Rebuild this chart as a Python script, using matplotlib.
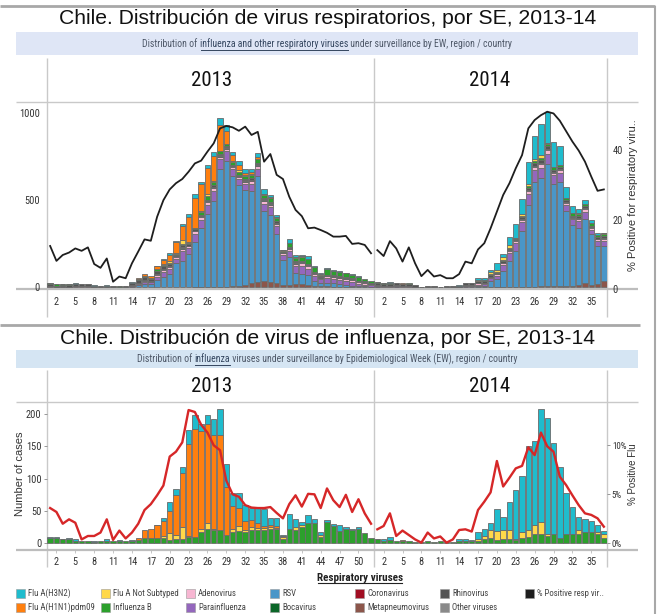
import numpy as np
import matplotlib
matplotlib.use('Agg')
import matplotlib.pyplot as plt
from matplotlib import font_manager
from matplotlib.patches import Rectangle

# ---------------- data ----------------
weeks_2013 = list(range(1, 53))
weeks_2014 = list(range(1, 38))
tick_weeks_2013 = [2, 5, 8, 11, 14, 17, 20, 23, 26, 29, 32, 35, 38, 41, 44, 47, 50]
tick_weeks_2014 = [2, 5, 8, 11, 14, 17, 20, 23, 26, 29, 32, 35]

# influenza (bottom chart, also stacked in the top chart)
h3n2_2013 = [1, 1, 1, 1, 3, 0, 0, 1, 0, 3, 0, 2, 0, 1, 0, 0, 0, 1, 5, 14,
             9, 10, 21, 22, 11, 14, 24, 40, 35, 20, 23, 24, 18, 25, 26, 10, 12, 2, 22, 12,
             6, 13, 6, 4, 4, 3, 9, 3, 2, 3, 0, 0]
h1n1_2013 = [0, 0, 0, 0, 0, 0, 0, 0, 0, 0, 0, 0, 0, 0, 4, 12, 14, 19, 24, 35,
             62, 83, 143, 168, 153, 154, 146, 148, 75, 36, 28, 14, 12, 8, 3, 4, 3, 1, 0, 0,
             0, 0, 0, 0, 0, 0, 0, 0, 0, 0, 0, 0]
notsub_2013 = [0, 0, 0, 0, 0, 0, 0, 0, 0, 0, 0, 0, 0, 0, 0, 0, 0, 0, 2, 11,
               6, 20, 2, 0, 5, 10, 2, 0, 0, 4, 8, 3, 5, 4, 3, 3, 1, 3, 0, 5,
               2, 0, 0, 3, 0, 0, 0, 0, 0, 0, 0, 0]
infb_2013 = [8, 8, 5, 6, 3, 2, 2, 1, 3, 3, 2, 2, 2, 3, 4, 7, 7, 8, 8, 4,
             6, 5, 9, 9, 16, 21, 20, 20, 12, 17, 18, 17, 19, 19, 20, 21, 22, 6, 22, 20,
             25, 30, 31, 9, 32, 26, 18, 22, 20, 22, 15, 7]

h3n2_2014 = [1, 3, 5, 0, 0, 0, 0, 0, 0, 0, 0, 0, 0, 3, 3, 2, 10, 11, 10, 35,
             20, 45, 77, 88, 130, 130, 176, 180, 142, 110, 64, 41, 20, 21, 18, 11, 4]
h1n1_2014 = [0, 0, 0, 0, 2, 0, 0, 0, 0, 0, 0, 0, 0, 0, 0, 0, 0, 0, 0, 0,
             0, 0, 0, 0, 0, 0, 0, 0, 0, 0, 0, 0, 0, 0, 0, 0, 0]
notsub_2014 = [0, 0, 0, 0, 0, 0, 0, 0, 0, 0, 0, 0, 0, 0, 0, 0, 3, 4, 13, 14,
               15, 14, 1, 9, 11, 14, 19, 3, 0, 0, 0, 0, 6, 0, 0, 3, 6]
infb_2014 = [5, 3, 4, 2, 2, 2, 1, 1, 2, 1, 2, 1, 1, 2, 2, 2, 3, 6, 7, 4,
             5, 5, 4, 7, 9, 14, 13, 11, 14, 8, 14, 14, 14, 16, 16, 13, 8]

# other respiratory viruses (top chart)
meta_2013 = [0, 0, 0, 0, 0, 0, 0, 0, 0, 0, 0, 0, 0, 0, 0, 0, 0, 0, 0, 0,
             0, 0, 0, 2, 2, 3, 3, 5, 5, 6, 10, 15, 25, 30, 35, 30, 25, 15, 15, 20,
             20, 15, 10, 10, 8, 5, 5, 4, 3, 3, 2, 2]
rsv_2013 = [2, 1, 1, 1, 1, 1, 1, 0, 0, 0, 0, 0, 0, 5, 15, 18, 22, 42, 62, 78,
            140, 152, 190, 260, 340, 420, 490, 675, 720, 630, 575, 545, 525, 610, 405, 385, 280, 140, 160, 65,
            60, 55, 25, 18, 20, 18, 15, 12, 8, 5, 4, 2]
para_2013 = [2, 1, 2, 1, 2, 2, 2, 1, 1, 1, 1, 0, 1, 3, 5, 12, 8, 20, 25, 30,
             25, 55, 35, 45, 45, 50, 60, 55, 55, 40, 35, 30, 40, 40, 40, 45, 45, 30, 35, 40,
             45, 35, 28, 18, 25, 25, 25, 22, 20, 14, 10, 8]
adeno_2013 = [3, 2, 2, 2, 3, 3, 4, 1, 1, 1, 0, 1, 1, 3, 4, 6, 4, 10, 12, 10,
              8, 15, 10, 14, 14, 15, 16, 14, 15, 12, 12, 15, 18, 15, 15, 15, 15, 10, 12, 12,
              14, 16, 12, 10, 10, 12, 12, 12, 12, 10, 10, 8]
rhino_2013 = [10, 6, 9, 8, 10, 10, 11, 7, 4, 3, 4, 2, 5, 12, 16, 18, 9, 16, 16, 12,
              8, 15, 8, 8, 8, 7, 8, 6, 6, 6, 6, 8, 8, 8, 7, 6, 6, 5, 6, 6,
              6, 7, 6, 5, 6, 6, 6, 6, 6, 5, 6, 6]
boca_2013 = [0, 0, 0, 0, 0, 0, 0, 0, 0, 0, 0, 0, 0, 0, 0, 0, 0, 0, 0, 0,
             0, 3, 0, 2, 3, 3, 4, 4, 4, 3, 3, 3, 4, 5, 4, 4, 4, 2, 3, 4,
             4, 4, 3, 2, 3, 3, 3, 2, 2, 1, 1, 1]
corona_2013 = [0, 0, 0, 0, 0, 0, 0, 0, 0, 0, 0, 0, 0, 0, 0, 0, 0, 0, 0, 0,
               0, 0, 0, 0, 0, 0, 0, 0, 0, 0, 0, 2, 2, 2, 2, 0, 0, 0, 0, 0,
               0, 0, 0, 0, 0, 0, 0, 0, 0, 0, 0, 0]
other_2013 = [2, 1, 2, 1, 2, 2, 2, 1, 1, 1, 1, 1, 1, 2, 4, 5, 3, 8, 8, 6,
              5, 5, 4, 3, 5, 4, 5, 4, 4, 4, 4, 4, 4, 4, 4, 4, 3, 2, 2, 3,
              3, 3, 3, 2, 2, 2, 2, 2, 2, 2, 2, 1]

meta_2014 = [1, 1, 1, 1, 1, 1, 0, 0, 0, 0, 0, 0, 0, 0, 0, 0, 1, 1, 2, 2,
             2, 2, 3, 3, 4, 5, 6, 6, 7, 6, 8, 10, 12, 25, 15, 20, 35]
rsv_2014 = [2, 2, 2, 2, 1, 1, 1, 0, 0, 0, 0, 1, 0, 1, 3, 4, 8, 10, 35, 45,
            90, 150, 205, 320, 470, 600, 620, 700, 585, 600, 430, 345, 330, 370, 290, 220, 200]
para_2014 = [3, 2, 2, 3, 2, 3, 1, 0, 1, 1, 0, 1, 1, 1, 4, 4, 8, 8, 15, 20,
             35, 45, 45, 50, 60, 65, 60, 60, 50, 50, 35, 35, 40, 40, 25, 25, 30]
adeno_2014 = [5, 4, 4, 5, 4, 4, 2, 1, 1, 1, 0, 1, 1, 1, 4, 3, 6, 5, 6, 8,
              12, 12, 12, 15, 18, 20, 20, 22, 15, 18, 12, 10, 12, 14, 10, 10, 12]
rhino_2014 = [13, 11, 10, 12, 10, 11, 8, 3, 4, 3, 3, 4, 3, 3, 10, 11, 10, 9, 9, 8,
              9, 9, 10, 10, 12, 14, 16, 16, 12, 12, 9, 8, 9, 10, 8, 8, 14]
boca_2014 = [0, 0, 0, 0, 0, 0, 0, 0, 0, 0, 0, 0, 0, 0, 0, 0, 0, 0, 0, 0,
             0, 0, 0, 0, 0, 0, 0, 0, 0, 0, 0, 0, 0, 0, 0, 0, 0]
corona_2014 = [0, 0, 0, 0, 0, 0, 0, 0, 0, 0, 0, 0, 0, 0, 0, 0, 0, 0, 0, 0,
               0, 0, 0, 0, 0, 0, 0, 0, 0, 0, 0, 0, 0, 0, 0, 0, 0]
other_2014 = [3, 2, 2, 3, 2, 2, 1, 0, 1, 1, 0, 1, 1, 1, 2, 2, 3, 2, 3, 2,
              4, 5, 5, 5, 6, 6, 6, 7, 6, 6, 5, 4, 4, 5, 4, 4, 5]

# % positive lines
pos_resp_2013 = [12.4, 8.1, 9.8, 10.5, 11.7, 11.0, 12.0, 7.2, 6.1, 8.8,
                 2.1, 3.6, 3.1, 7.4, 10.8, 14.3, 13.9, 20.8, 25.6, 28.7,
                 30.5, 31.7, 33.8, 36.2, 37.0, 39.6, 42.0, 46.3, 47.0, 46.6,
                 45.6, 46.8, 44.4, 45.3, 36.7, 38.9, 32.9, 31.7, 26.6, 22.8,
                 21.0, 17.5, 17.7, 17.0, 16.2, 15.1, 15.1, 15.3, 13.0, 13.2,
                 12.7, 10.3]
pos_resp_2014 = [11.2, 9.5, 13.8, 11.7, 7.9, 12.0, 7.4, 3.7, 5.5, 3.6,
                 4.0, 3.1, 3.1, 4.3, 7.9, 7.4, 11.4, 13.2, 17.5, 22.3,
                 27.1, 30.5, 34.8, 38.6, 46.3, 48.7, 50.1, 51.1, 50.6, 48.5,
                 45.5, 42.5, 39.9, 36.7, 32.4, 28.3, 28.7]
pos_flu_2013 = [3.6, 3.2, 2.0, 2.45, 2.1, 0.4, 0.75, 0.75, 1.1, 2.45,
                0.35, 1.3, 0.5, 1.1, 2.0, 3.4, 4.0, 4.9, 5.9, 8.85,
                9.35, 10.3, 13.6, 13.4, 12.1, 11.3, 10.0, 9.5, 6.4, 5.0,
                4.75, 3.9, 3.65, 3.6, 3.6, 3.7, 3.1, 2.55, 4.0, 4.9,
                3.75, 5.05, 5.0, 3.6, 5.6, 4.4, 3.7, 4.95, 3.2, 4.5,
                3.05, 2.0]
pos_flu_2014 = [1.43, 1.77, 3.06, 0.75, 1.3, 0.85, 0.4, 0.07, 1.1, 0.5,
                0.7, 0.07, 0.4, 1.36, 1.43, 1.2, 3.4, 4.25, 5.2, 8.4,
                5.8, 6.7, 7.65, 7.9, 9.8, 9.0, 11.3, 9.9, 9.35, 6.8,
                5.95, 4.9, 3.9, 3.06, 2.9, 2.55, 1.7]

# ---------------- style ----------------
COLORS = {
    'Flu A(H3N2)': '#1fbccd', 'Flu A(H1N1)pdm09': '#ff7f0e', 'Flu A Not Subtyped': '#ffd84a',
    'Influenza B': '#2ca02c', 'Adenovirus': '#f7b6d2', 'Parainfluenza': '#9467bd',
    'RSV': '#4a96c8', 'Bocavirus': '#0b6628', 'Coronavirus': '#a10d22',
    'Metapneumovirus': '#8c564b', 'Rhinovirus': '#555555', 'Other viruses': '#8a8a8a',
    '% Positive resp vir..': '#1e1e1e',
}
EDGE = '#6a6a6a'
GRID = '#c9c9c9'

avail = {f.name for f in font_manager.fontManager.ttflist}
NARROW = 'DejaVu Sans'
for cand in ['Liberation Sans Narrow', 'Roboto Condensed', 'Open Sans Condensed']:
    if cand in avail:
        NARROW = cand
        break
plt.rcParams['font.family'] = [NARROW, 'DejaVu Sans']
ARIAL = ['Liberation Sans', 'DejaVu Sans']

W, H = 658, 614
fig = plt.figure(figsize=(W / 100, H / 100), dpi=100)

# overlay in pixel coordinates for the table lines, bands and legend
ov = fig.add_axes([0, 0, 1, 1], zorder=0)
ov.set_xlim(0, W)
ov.set_ylim(H, 0)
ov.axis('off')


def hline(y, x0, x1, lw=1.0, color=GRID):
    ov.plot([x0, x1], [y, y], color=color, lw=lw, solid_capstyle='butt')


def vline(x, y0, y1, lw=1.0, color=GRID):
    ov.plot([x, x], [y0, y1], color=color, lw=lw, solid_capstyle='butt')


renderer = fig.canvas.get_renderer()


def subtitle(y, parts, size=7):
    texts = []
    for s, ul in parts:
        t = ov.text(0, y, s, fontsize=size, color='#4e5868' if not ul else '#34465f',
                    va='center', ha='left')
        texts.append(t)
    widths = [t.get_window_extent(renderer).width for t in texts]
    x = 327 - sum(widths) / 2
    for t, w, (s, ul) in zip(texts, widths, parts):
        t.set_x(x)
        if ul:
            ov.plot([x + 1, x + w], [y + 5.5, y + 5.5], color='#34465f', lw=0.7)
        x += w


# frame
hline(6, 0, 655, lw=2, color='#a8a8a8')
vline(655, 6, 614, lw=1.5, color='#a8a8a8')
hline(325, 0, 640, lw=2, color='#a8a8a8')

# ---- top panel decorations ----
ov.text(328, 19, 'Chile. Distribución de virus respiratorios, por SE, 2013-14',
        fontsize=15.2, family=ARIAL, ha='center', va='center', color='#111111')
ov.add_patch(Rectangle((16, 32), 622, 23, color='#dfe6f6', lw=0))
subtitle(44, [('Distribution of ', False), ('influenza and other respiratory viruses', True),
              (' under surveillance by EW, region / country', False)])
for xv in (47, 374, 607):
    vline(xv, 58, 317)
hline(102, 16, 638)
hline(289, 16, 638, lw=1.6, color='#bdbdbd')
ov.text(212, 80, '2013', fontsize=15, ha='center', va='center', color='#111111')
ov.text(490, 80, '2014', fontsize=15, ha='center', va='center', color='#111111')
ov.text(633, 195, '% Positive for respiratory viru..', fontsize=8, family=ARIAL,
        rotation=90, ha='center', va='center', color='#333333')

# ---- bottom panel decorations ----
ov.text(328, 339, 'Chile. Distribución de virus de influenza, por SE, 2013-14',
        fontsize=15.2, family=ARIAL, ha='center', va='center', color='#111111')
ov.add_patch(Rectangle((16, 350), 622, 18, color='#d5e5f3', lw=0))
subtitle(359, [('Distribution of ', False), ('influenza', True),
               (' viruses under surveillance by Epidemiological Week (EW), region / country', False)])
for xv in (47, 374, 607):
    vline(xv, 370, 567)
hline(402, 16, 638)
hline(550, 16, 638, lw=1.6, color='#bdbdbd')
ov.text(212, 387, '2013', fontsize=15, ha='center', va='center', color='#111111')
ov.text(490, 387, '2014', fontsize=15, ha='center', va='center', color='#111111')
ov.text(20, 474, 'Number of cases', fontsize=8, family=ARIAL, rotation=90,
        ha='center', va='center', color='#333333')
ov.text(633, 474, '% Positive Flu', fontsize=7, family=ARIAL, rotation=90,
        ha='center', va='center', color='#333333')

# ---------------- charts ----------------
x = np.arange(len(weeks_2013) + len(weeks_2014))
n13 = len(weeks_2013)
tick_pos = [w - 1 for w in tick_weeks_2013] + [n13 + w - 1 for w in tick_weeks_2014]
tick_lab = [str(w) for w in tick_weeks_2013] + [str(w) for w in tick_weeks_2014]


def stack(ax, series):
    bottom = np.zeros(len(x))
    for name, vals in series:
        v = np.array(vals, dtype=float)
        m = v > 0
        ax.bar(x[m], v[m], bottom=bottom[m], width=0.86, color=COLORS[name],
               edgecolor=EDGE, linewidth=0.6, zorder=2)
        bottom += v


def clean(ax):
    ax.set_facecolor('none')
    for s in ax.spines.values():
        s.set_visible(False)


top_stack = [
    ('Metapneumovirus', meta_2013 + meta_2014),
    ('RSV', rsv_2013 + rsv_2014),
    ('Parainfluenza', para_2013 + para_2014),
    ('Adenovirus', adeno_2013 + adeno_2014),
    ('Bocavirus', boca_2013 + boca_2014),
    ('Coronavirus', corona_2013 + corona_2014),
    ('Other viruses', other_2013 + other_2014),
    ('Rhinovirus', rhino_2013 + rhino_2014),
    ('Influenza B', infb_2013 + infb_2014),
    ('Flu A Not Subtyped', notsub_2013 + notsub_2014),
    ('Flu A(H1N1)pdm09', h1n1_2013 + h1n1_2014),
    ('Flu A(H3N2)', h3n2_2013 + h3n2_2014),
]
flu_stack = top_stack[-4:]

ax1 = fig.add_axes([47 / W, (H - 289) / H, 560 / W, 187 / H], zorder=2)
clean(ax1)
stack(ax1, top_stack)
ax1.set_xlim(-0.5, len(x) - 0.5)
ax1.set_ylim(-8.6, 1062)
ax1.set_yticks([0, 500, 1000])
ax1.set_xticks(tick_pos)
ax1.set_xticklabels(tick_lab)
ax1.tick_params(axis='x', length=0, pad=6, labelsize=7.5, labelcolor='#333333')
ax1.tick_params(axis='y', length=0, pad=5, labelsize=7.5, labelcolor='#333333')
ax1b = ax1.twinx()
clean(ax1b)
ax1b.set_ylim(0, 53.9)
ax1b.plot(x[:n13], pos_resp_2013, color=COLORS['% Positive resp vir..'], lw=1.3, zorder=3)
ax1b.plot(x[n13:], pos_resp_2014, color=COLORS['% Positive resp vir..'], lw=1.3, zorder=3)
ax1b.set_yticks([0, 20, 40])
ax1b.tick_params(axis='y', length=0, pad=4, labelsize=7.5, labelcolor='#333333')

ax2 = fig.add_axes([47 / W, (H - 550) / H, 560 / W, 148 / H], zorder=2)
clean(ax2)
stack(ax2, flu_stack)
ax2.set_xlim(-0.5, len(x) - 0.5)
ax2.set_ylim(-11.4, 219.2)
ax2.set_yticks([0, 50, 100, 150, 200])
ax2.set_xticks(tick_pos)
ax2.set_xticklabels(tick_lab)
ax2.tick_params(axis='x', length=2, width=0.6, color='#bbbbbb', pad=3, labelsize=7.5,
                labelcolor='#333333')
ax2.tick_params(axis='y', length=2.5, width=0.6, color='#888888', pad=1.5, labelsize=7.5,
                labelcolor='#333333')
ax2b = ax2.twinx()
clean(ax2b)
ax2b.set_ylim(-0.68, 14.42)
ax2b.plot(x[:n13], pos_flu_2013, color='#d62728', lw=1.7, zorder=3)
ax2b.plot(x[n13:], pos_flu_2014, color='#d62728', lw=1.7, zorder=3)
ax2b.set_yticks([0, 5, 10])
ax2b.set_yticklabels(['0%', '5%', '10%'])
ax2b.tick_params(axis='y', length=2, width=0.6, color='#888888', pad=1.5, labelsize=6.5,
                 labelcolor='#333333')

# ---------------- legend ----------------
ov.text(360, 578, 'Respiratory viruses', fontsize=8, fontweight='bold', ha='center',
        va='center', color='#222222')
ov.plot([318, 402], [583, 583], color='#222222', lw=0.8)
legend_rows = [
    ['Flu A(H3N2)', 'Flu A Not Subtyped', 'Adenovirus', 'RSV', 'Coronavirus', 'Rhinovirus',
     '% Positive resp vir..'],
    ['Flu A(H1N1)pdm09', 'Influenza B', 'Parainfluenza', 'Bocavirus', 'Metapneumovirus',
     'Other viruses'],
]
col_x = [16, 101, 186, 270, 355, 440, 525]
row_y = [593, 607]
for r, names in enumerate(legend_rows):
    for c, name in enumerate(names):
        x0, y0 = col_x[c], row_y[r]
        ov.add_patch(Rectangle((x0, y0 - 4.5), 9, 9, facecolor=COLORS[name],
                               edgecolor='#9a9a9a', lw=0.4))
        ov.text(x0 + 12, y0, name, fontsize=6.3, ha='left', va='center', color='#444444')

fig.savefig('out.png', dpi=100)
